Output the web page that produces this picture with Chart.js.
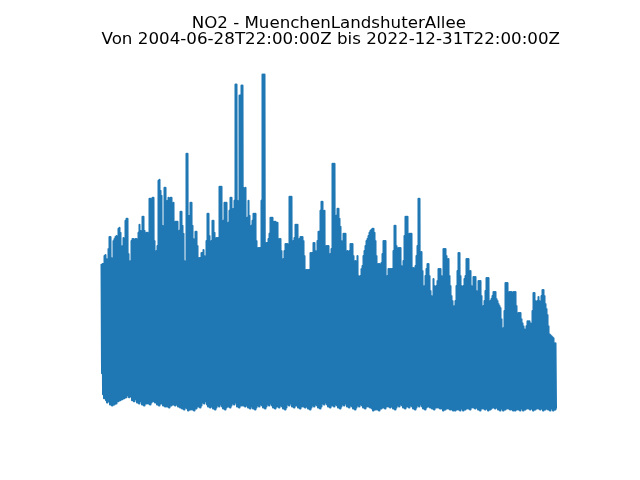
<!DOCTYPE html>
<html>
<head>
<meta charset="utf-8">
<script src="https://cdn.jsdelivr.net/npm/chart.js@4.4.0/dist/chart.umd.min.js"></script>
<style>
html,body{margin:0;padding:0;background:#fff;}
#wrap{width:640px;height:480px;}
</style>
</head>
<body>
<div id="wrap"><canvas id="c" width="640" height="480"></canvas></div>
<script>
// Title texts
const titleLines = ["NO2 - MuenchenLandshuterAllee", "Von 2004-06-28T22:00:00Z bis 2022-12-31T22:00:00Z"];

// Per time-bin maximum of hourly NO2 (one bin per screen column, 2004-06-28 .. 2022-12-31)
const binMax = [
146,146,146,154,155,151,144,161,173,173,152,147,169,171,173,174,167,181,182,177,
156,164,172,164,189,191,191,156,147,149,169,171,171,151,171,171,151,177,185,179,
169,193,193,179,159,177,177,149,211,211,179,212,212,169,154,159,164,229,230,219,
214,184,174,222,222,174,209,212,199,212,212,184,207,159,188,188,188,169,179,198,
198,184,176,149,144,256,256,181,194,207,207,184,171,164,178,178,164,152,152,152,
157,157,160,154,149,169,196,196,174,149,169,189,189,177,169,172,172,172,223,223,
223,172,189,207,207,207,176,187,199,212,212,189,201,209,325,325,209,177,314,314,
324,324,222,219,222,192,192,209,194,181,184,189,196,196,196,169,162,162,162,162,
209,335,335,335,167,167,167,171,176,192,192,192,188,188,188,187,187,171,171,171,
159,149,151,159,166,166,166,154,213,213,213,164,169,172,185,185,185,169,171,173,
173,173,169,154,140,140,140,140,140,157,157,157,167,167,159,157,169,178,178,199,
208,208,199,199,147,164,164,164,156,156,161,246,246,246,189,194,201,201,191,183,
169,161,176,176,176,144,159,147,159,166,166,166,154,139,149,147,154,134,122,134,
141,144,154,159,164,169,171,174,177,179,180,181,181,177,169,154,146,146,146,139,
147,156,169,169,169,131,134,141,141,141,141,141,159,184,184,164,151,162,162,162,
144,134,149,174,193,193,193,159,176,176,176,142,142,131,144,154,164,211,211,158,
158,139,112,124,134,141,146,146,134,119,114,109,131,124,119,124,129,141,141,141,
134,129,161,161,161,154,151,151,134,124,114,109,99,104,109,124,139,157,157,134,
124,116,124,131,134,151,151,151,139,139,124,116,133,133,133,119,94,129,129,129,
114,99,104,109,119,132,132,132,104,109,111,114,118,118,118,111,109,106,104,102,
91,82,82,99,127,127,127,104,118,118,118,104,118,118,118,104,86,97,97,97,
91,87,84,81,77,84,89,89,89,87,84,99,117,117,109,104,109,113,109,104,
114,120,120,114,106,101,95,84,76,75,74,73,72,67,67
];

// Per time-bin minimum of hourly NO2 (same bins)
const binMin = [
37,16,12,14,10, 8,11,9,6,10, 5,8,6,9,7, 12,9,13,10,11, 11,14,12,15,13,
18,15,13,17,14, 10,12,9,13,11, 8,10,7,11,9, 6,9,5,8,7, 9,7,10,6,8,
11,9,12,8,10, 6,8,5,9,7, 7,5,8,4,6, 4,6,3,7,5, 8,6,9,5,7,
6,4,7,3,5, 2,4,1,5,3, 2,0,3,1,2, 1,3,0,4,2, 6,4,7,3,5,
8,10,7,11,9, 6,4,7,3,5, 4,2,5,1,3, 5,7,4,8,6, 4,2,5,1,3,
6,4,7,3,5, 7,9,6,10,8, 4,6,3,7,5, 7,5,8,4,6, 5,3,6,2,4,
4,2,5,1,3, 5,7,4,8,6, 5,3,6,2,4, 6,8,5,9,7, 5,3,6,2,4,
4,6,3,7,5, 4,2,5,1,3, 6,8,5,9,7, 4,6,3,7,5, 5,3,6,2,4,
6,4,7,3,5, 4,2,5,1,3, 5,7,4,8,6, 5,3,6,2,4, 7,9,6,10,8,
6,4,7,3,5, 5,7,4,8,6, 5,3,6,2,4, 6,8,5,9,7, 4,6,3,7,5,
4,2,5,1,3, 5,7,4,8,6, 5,3,6,2,4, 6,4,7,3,5, 2,0,3,1,2,
1,3,0,4,2, 5,3,6,2,4, 6,4,7,3,5, 4,2,5,1,3, 5,7,4,8,6,
5,3,6,2,4, 4,6,3,7,5, 4,2,5,1,3, 5,7,4,8,6, 4,2,5,1,3,
6,4,7,3,5, 2,4,1,5,3, 5,3,6,2,4, 2,0,3,1,2, 4,2,5,1,3,
1,0,2,0,1, 3,1,4,0,2, 2,0,3,1,2, 4,2,5,1,3, 5,3,6,2,4,
3,1,4,0,2, 4,2,5,1,3, 2,0,3,1,2, 5,3,6,2,4, 3,1,4,0,2,
2,0,3,1,2, 4,2,5,1,3, 1,0,2,0,1, 3,1,4,0,2, 2,0,3,1,2,
4,2,5,1,3, 2,0,3,1,2, 4,2,5,1,3, 2,0,3,1,2, 3,1,4,0,2,
2,0,3,1,2
];

const points = [];
for (let i = 0; i < binMax.length; i++) {
  points.push({x: i, y: binMax[i]});
  points.push({x: i + 0.5, y: binMin[Math.min(binMin.length - 1, i)]});
}

const allY = binMax.concat(binMin);
const yLo = Math.min(...allY), yHi = Math.max(...allY);
const yPad = (yHi - yLo) * 0.05;

const titlePlugin = {
  id: 'mplTitle',
  afterDraw(chart) {
    const ctx = chart.ctx;
    ctx.save();
    ctx.fillStyle = '#000';
    ctx.font = "16.67px 'DejaVu Sans'";
    ctx.textBaseline = 'alphabetic';
    ctx.textAlign = 'center';
    ctx.fillText(titleLines[0], 328.8, 28.3);
    // second line: matplotlib renders it slightly wider
    const w = ctx.measureText(titleLines[1]).width;
    const target = 458.5;
    ctx.textAlign = 'left';
    ctx.translate(101.5, 44.4);
    ctx.scale(target / w, 1);
    ctx.fillText(titleLines[1], 0, 0);
    ctx.restore();
  }
};

new Chart(document.getElementById('c'), {
  type: 'line',
  data: {
    datasets: [{
      data: points,
      borderColor: '#1f77b4',
      borderWidth: 2,
      pointRadius: 0,
      tension: 0,
      fill: false,
      borderJoinStyle: 'round',
      borderCapStyle: 'butt'
    }]
  },
  options: {
    responsive: false,
    animation: false,
    events: [],
    layout: { padding: { left: 80, right: 64, top: 57.6, bottom: 52.8 } },
    plugins: { legend: { display: false }, tooltip: { enabled: false }, title: { display: false } },
    scales: {
      x: { type: 'linear', display: false, min: -21.5, max: 474.5 },
      y: { type: 'linear', display: false, min: yLo - yPad, max: yHi + yPad }
    }
  },
  plugins: [titlePlugin]
});
</script>
</body>
</html>
